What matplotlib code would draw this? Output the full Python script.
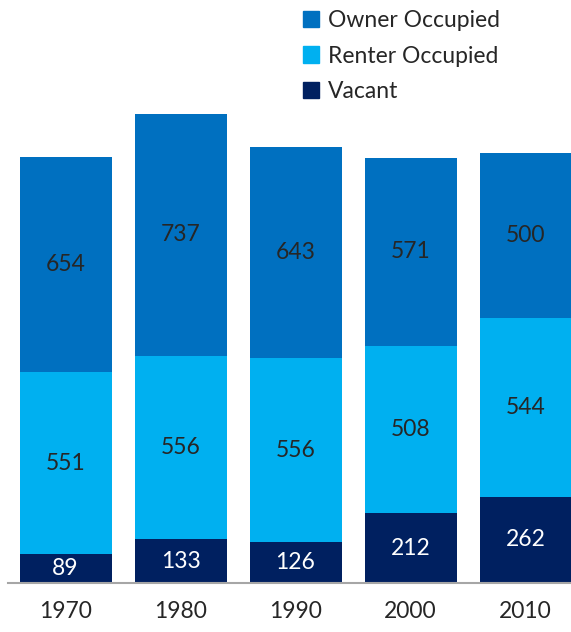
import matplotlib
matplotlib.use('Agg')
import matplotlib.pyplot as plt
from matplotlib.patches import Patch
import numpy as np

years = ['1970', '1980', '1990', '2000', '2010']
vacant = [89, 133, 126, 212, 262]
renter = [551, 556, 556, 508, 544]
owner = [654, 737, 643, 571, 500]

c_owner = '#0070C0'
c_renter = '#00B0F0'
c_vacant = '#002060'
txt = '#262626'

plt.rcParams['font.family'] = ['Lato', 'DejaVu Sans']

W, H = 571, 632
fig = plt.figure(figsize=(W / 100, H / 100), dpi=100)
ax = fig.add_axes([8 / W, (H - 583) / H, 1 - 8 / W, 583 / H])

x = np.arange(len(years))
v = np.array(vacant)
r = np.array(renter)
o = np.array(owner)

ax.bar(x, v, 0.8, color=c_vacant, zorder=2)
ax.bar(x, r, 0.8, bottom=v, color=c_renter, zorder=2)
ax.bar(x, o, 0.8, bottom=v + r, color=c_owner, zorder=2)

for i in range(len(years)):
    ax.text(x[i], v[i] / 2, str(v[i]), ha='center', va='center', color='white', fontsize=16.5)
    ax.text(x[i], v[i] + r[i] / 2, str(r[i]), ha='center', va='center', color=txt, fontsize=16.5)
    ax.text(x[i], v[i] + r[i] + o[i] / 2, str(o[i]), ha='center', va='center', color=txt, fontsize=16.5)

ax.set_xlim(-0.5, -0.5 + 563 / 115)
ax.set_ylim(0, 583 / 0.3292)
for s in ['top', 'right', 'left']:
    ax.spines[s].set_visible(False)
ax.spines['bottom'].set_color('#A6A6A6')
ax.spines['bottom'].set_linewidth(1.5)
ax.set_yticks([])
ax.set_xticks(x)
ax.set_xticklabels(years, fontsize=16.5, color=txt)
ax.tick_params(axis='x', length=0, pad=13)

handles = [Patch(color=c_owner, label='Owner Occupied'),
           Patch(color=c_renter, label='Renter Occupied'),
           Patch(color=c_vacant, label='Vacant')]
fig.legend(handles=handles, loc='upper left', bbox_to_anchor=(282 / W, 1 + 11 / H),
           frameon=False, fontsize=16.5, handlelength=0.7, handleheight=0.7,
           handletextpad=0.4, labelspacing=0.65, labelcolor=txt)

fig.savefig('out.png', dpi=100)
